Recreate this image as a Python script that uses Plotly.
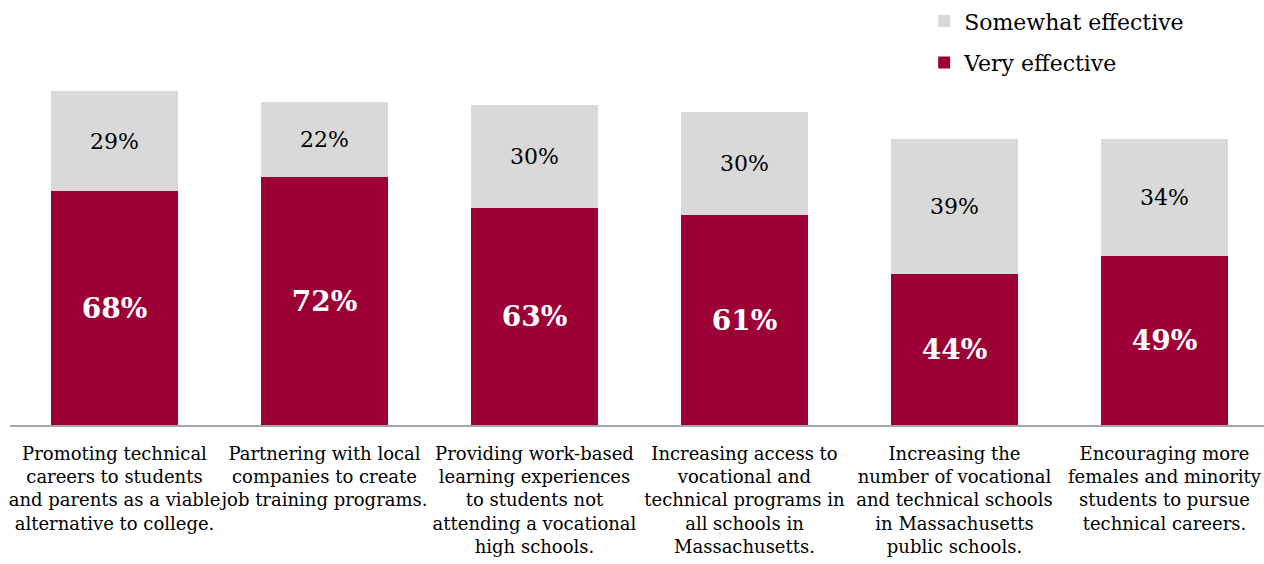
import plotly.graph_objects as go

categories = [
    "Promoting technical<br>careers to students<br>and parents as a viable<br>alternative to college.",
    "Partnering with local<br>companies to create<br>job training programs.",
    "Providing work-based<br>learning experiences<br>to students not<br>attending a vocational<br>high schools.",
    "Increasing access to<br>vocational and<br>technical programs in<br>all schools in<br>Massachusetts.",
    "Increasing the<br>number of vocational<br>and technical schools<br>in Massachusetts<br>public schools.",
    "Encouraging more<br>females and minority<br>students to pursue<br>technical careers.",
]
very_effective = [68, 72, 63, 61, 44, 49]
somewhat_effective = [29, 22, 30, 30, 39, 34]

FONT = "DejaVu Serif"
RED = "#9d0036"
GREY = "#d9d9d9"

x_idx = list(range(len(categories)))

fig = go.Figure()
fig.add_trace(go.Bar(
    x=x_idx, y=very_effective, name="Very effective",
    marker=dict(color=RED, line=dict(width=0)),
    width=0.605,
    texttemplate="%{y}%", textposition="inside", insidetextanchor="middle",
    textangle=0, constraintext="none",
    textfont=dict(family=FONT, size=28, color="white", weight="bold"),
    legendgroup="very", legendrank=2, hoverinfo="skip",
))
fig.add_trace(go.Bar(
    x=x_idx, y=somewhat_effective, name="Somewhat effective",
    marker=dict(color=GREY, line=dict(width=0)),
    width=0.605,
    texttemplate="%{y}%", textposition="inside", insidetextanchor="middle",
    textangle=0, constraintext="none",
    textfont=dict(family=FONT, size=22, color="black"),
    legendgroup="somewhat", legendrank=1, hoverinfo="skip",
))

fig.update_layout(
    barmode="stack",
    width=1264, height=564,
    margin=dict(l=10, r=0, t=81, b=139, autoexpand=False),
    paper_bgcolor="white", plot_bgcolor="white",
    font=dict(family=FONT, color="black"),
    showlegend=True,
    legend=dict(
        traceorder="grouped", tracegroupgap=10,
        xref="paper", yref="paper",
        x=0.729, y=1.235, xanchor="left", yanchor="top",
        font=dict(family=FONT, size=22, color="black"),
        bgcolor="rgba(0,0,0,0)",
    ),
    xaxis=dict(
        range=[-0.4976, 5.474],
        tickmode="array", tickvals=x_idx, ticktext=categories,
        tickangle=0, ticklabeloverflow="allow", ticklabelstandoff=11,
        tickfont=dict(family=FONT, size=18, color="black"),
        showline=True, linecolor="#a6a6a6", linewidth=2,
        ticks="", showgrid=False, zeroline=False, fixedrange=True,
    ),
    yaxis=dict(
        range=[0, 100], visible=False, showgrid=False, fixedrange=True,
    ),
)

fig.write_html("out.html")
